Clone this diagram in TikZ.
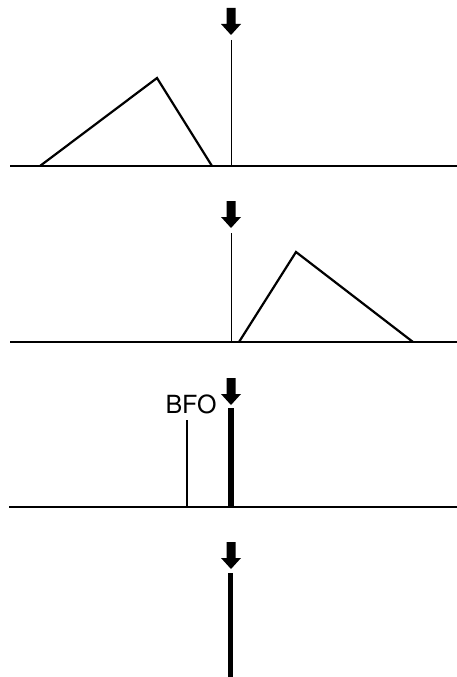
\documentclass[tikz,border=0pt]{standalone}
\usepackage{fontspec}
\setsansfont{TeX Gyre Heros}
\usetikzlibrary{positioning}
\tikzset{
  every picture/.style={x=1pt, y=-1pt},
  base/.style={line width=2pt},
  peak/.style={line width=2.2pt, line join=miter},
  marker/.style={line width=1pt},
  signal/.style={line width=5.5pt},
  lbl/.style={font=\sffamily\fontsize{25}{25}\selectfont, inner sep=0pt},
  tuning/.pic={\fill (-4.5,0) -- (4.5,0) -- (4.5,16) -- (10,16) -- (0,27) -- (-10,16) -- (-4.5,16) -- cycle;},
}

\begin{document}
\begin{tikzpicture}
  \useasboundingbox (0,0) rectangle (457,677);
  % ---------------- panel 1: passband below the tuning point
  \pic at (231,8) {tuning};
  \draw[base] (10,166) -- (457,166);
  \draw[peak] (40,166) -- (157,78) -- (212,166);
  \draw[marker] (231,40) -- (231,166);
  % ---------------- panel 2: passband above the tuning point
  \pic at (231,201) {tuning};
  \draw[base] (10,342) -- (457,342);
  \draw[peak] (239,342) -- (296,252) -- (413,342);
  \draw[marker] (231,233) -- (231,342);
  % ---------------- panel 3: beat frequency oscillator
  \pic at (231,378) {tuning};
  \draw[base] (9,507) -- (457,507);
  \node[lbl, anchor=base] (bfo) at (191,413) {BFO};
  \draw[line width=1.8pt] (187,420) -- (187,507);
  \draw[signal] (231,408) -- (231,507);
  % ---------------- panel 4: carrier alone
  \pic at (231,542) {tuning};
  \draw[signal] (230.5,573) -- (230.5,677);
\end{tikzpicture}
\end{document}
